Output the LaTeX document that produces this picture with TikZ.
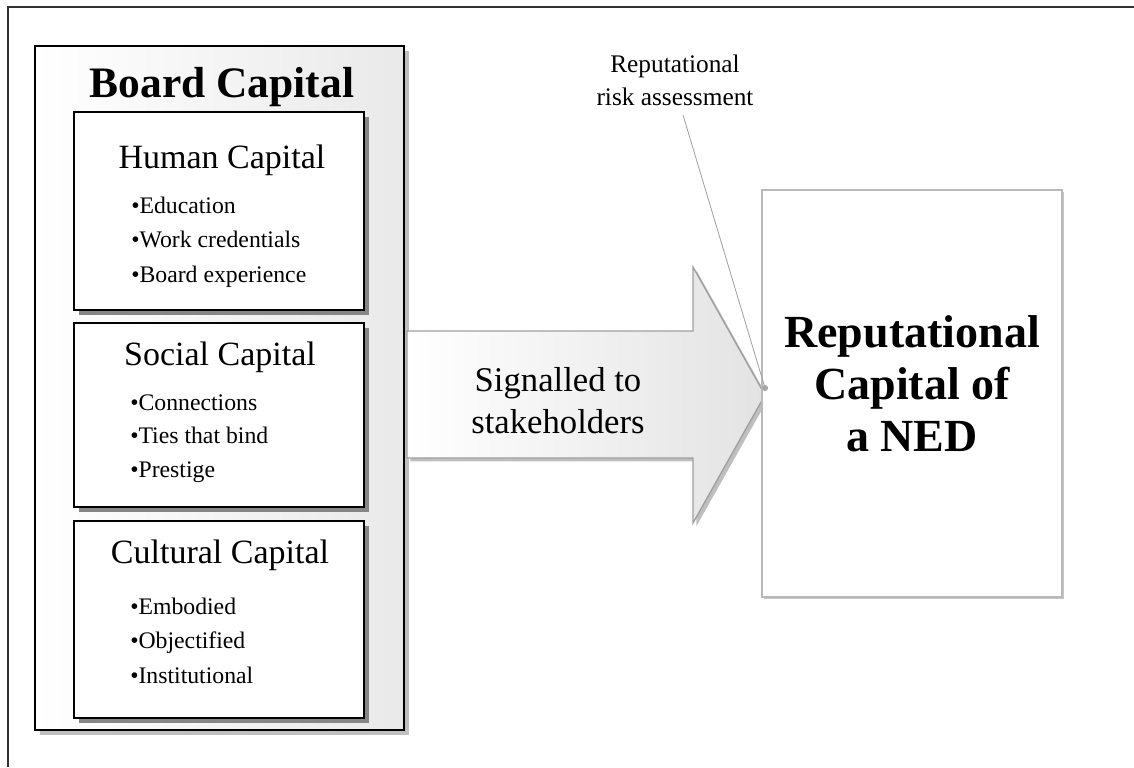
\documentclass[tikz,border=0pt]{standalone}
\usepackage{fontspec}
\setmainfont{Liberation Serif}
\usetikzlibrary{shadows}

\newcommand{\px}{0.75pt}

\begin{document}
\begin{tikzpicture}[x=0.75pt,y=-0.75pt,
    frame/.style={draw=black!80, line width=1.1pt},
    boardbox/.style={draw=black, line width=0.8pt, inner sep=0pt, left color=white, right color=gray!17,
      drop shadow={shadow xshift=3.6pt, shadow yshift=-3.6pt, fill=gray!50, opacity=1}},
    capbox/.style={draw=black, line width=0.9pt, inner sep=0pt, fill=white,
      drop shadow={shadow xshift=4pt, shadow yshift=-4pt, fill=gray!95, opacity=1}},
    nedbox/.style={draw=gray!55, line width=1.6pt, inner sep=0pt, fill=white,
      drop shadow={shadow xshift=1.8pt, shadow yshift=-1.8pt, fill=gray!45, opacity=1}},
    blockarrow/.style={draw=gray!75, line width=1pt, left color=white, right color=gray!22,
      drop shadow={shadow xshift=2.5pt, shadow yshift=-2.5pt, fill=gray!50, opacity=1}},
    title/.style={font=\fontsize{32.6}{39}\selectfont\bfseries, anchor=base},
    head/.style={font=\fontsize{25.5}{30}\selectfont, anchor=base},
    item/.style={font=\fontsize{17.8}{22}\selectfont, anchor=base west, inner sep=0pt},
    pinline/.style={draw=gray!75, line width=0.6pt}]
  \useasboundingbox (0,0) rectangle (1134,767);
  \draw[frame] (1134,7) -- (8,7) -- (8,767);

  \node[boardbox, minimum width=369*\px, minimum height=684*\px] (board) at (219.5,388) {};
  \node[title] (boardtitle) at (222,97) {Board Capital};

  \node[capbox, minimum width=290*\px, minimum height=198*\px] (human) at (219,211) {};
  \node[head] (humanhead) at (222,168) {Human Capital};
  \foreach \txt [count=\i] in {Education, Work credentials, Board experience}
    \node[item] (human\i) at (131,213+34.5*\i-34.5) {•\txt};

  \node[capbox, minimum width=290*\px, minimum height=184*\px] (social) at (219,415) {};
  \node[head] (socialhead) at (220,365) {Social Capital};
  \foreach \txt [count=\i] in {Connections, Ties that bind, Prestige}
    \node[item] (social\i) at (130,410+33.5*\i-33.5) {•\txt};

  \node[capbox, minimum width=290*\px, minimum height=197*\px] (cultural) at (219,619.5) {};
  \node[head] (culturalhead) at (220,563) {Cultural Capital};
  \foreach \txt [count=\i] in {Embodied, Objectified, Institutional}
    \node[item] (cultural\i) at (130,614+34.5*\i-34.5) {•\txt};

  \path[blockarrow] (407,331) -- (693,331) -- (693,267) -- (765,395) -- (693,523) -- (693,458) -- (407,458) -- cycle;
  \node[font=\fontsize{26}{31.5}\selectfont, align=center] (signal) at (558,401) {Signalled to\\stakeholders};

  \node[nedbox, minimum width=300*\px, minimum height=407*\px] (ned) at (912,393.5) {};
  \node[font=\fontsize{34.5}{39}\selectfont\bfseries, align=center] (nedtext) at (912,384) {Reputational\\Capital of\\a NED};

  \node[font=\fontsize{19}{24.8}\selectfont, align=center] (callout) at (675,80) {Reputational\\risk assessment};
  \coordinate (pinfoot) at (683,115);
  \coordinate (pintip) at (765,388);
  \draw[pinline] (pinfoot) -- (pintip);
  \fill[gray!70] (pintip) circle[radius=2.3pt];
\end{tikzpicture}
\end{document}
